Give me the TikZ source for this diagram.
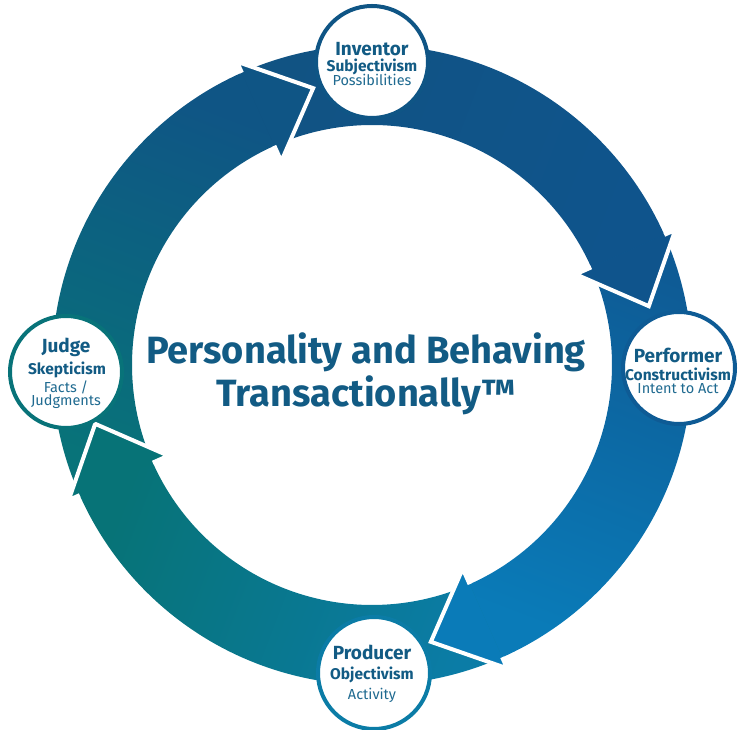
\documentclass[tikz,border=0pt]{standalone}
\usepackage{fontspec}
\setmainfont{Fira Sans}
\definecolor{txt}{HTML}{125B84}
\definecolor{txtl}{HTML}{1F6A90}
\definecolor{Aa}{HTML}{087379}
\definecolor{Ab}{HTML}{0F5585}
\definecolor{Ba}{HTML}{115383}
\definecolor{Bm}{HTML}{154779}
\definecolor{Bb}{HTML}{0F548C}
\definecolor{Ca}{HTML}{0E5B95}
\definecolor{Cb}{HTML}{0A7BB8}
\definecolor{Da}{HTML}{0B7CA6}
\definecolor{Db}{HTML}{077377}
\tikzset{
  stage/.style={circle, fill=white, draw=#1, line width=4pt, minimum size=112pt, inner sep=0pt},
  headline/.style={draw=white, line width=4pt, line join=miter},
  ttl/.style={text=txt, font=\fontsize{19}{19}\selectfont\bfseries, inner sep=0pt},
  sub/.style={text=txt, font=\fontsize{15.5}{15.5}\selectfont\bfseries, inner sep=0pt},
  lite/.style={text=txtl, font=\fontsize{14.5}{14.5}\selectfont, inner sep=0pt},
  big/.style={text=txt, font=\fontsize{38}{38}\selectfont\bfseries, inner sep=0pt}
}
\begin{document}
\begin{tikzpicture}[x=1pt,y=1pt]
\useasboundingbox (0,0) rectangle (741,730);
\def\ri{240pt}\def\ro{320pt}\def\rwi{223pt}\def\rwo{332pt}\def\rt{283pt}
\begin{scope}[shift={(372,365)}]
% bodies
\shade[bottom color=Aa, top color=Ab, shading angle=-21]
  (204:\ro) arc[start angle=204, end angle=113.5, radius=\ro] -- (113.5:\ri) arc[start angle=113.5, end angle=204, radius=\ri] -- cycle;
\shade[bottom color=Ba, middle color=Bm, top color=Bb, shading angle=-111]
  (114:\ro) arc[start angle=114, end angle=23.5, radius=\ro] -- (23.5:\ri) arc[start angle=23.5, end angle=114, radius=\ri] -- cycle;
\shade[bottom color=Ca, top color=Cb, shading angle=159]
  (24:\ro) arc[start angle=24, end angle=-66.5, radius=\ro] -- (-66.5:\ri) arc[start angle=-66.5, end angle=24, radius=\ri] -- cycle;
\shade[bottom color=Da, top color=Db, shading angle=69]
  (-66:\ro) arc[start angle=-66, end angle=-156.5, radius=\ro] -- (-156.5:\ri) arc[start angle=-156.5, end angle=-66, radius=\ri] -- cycle;
% heads
\foreach \b/\t/\c in {114/102/Ab, 24/12/Bb, -66/-78/Cb, -156/-168/Db}{
  \fill[\c] (\b:\ro) -- (\b:\rwo) -- (\t:\rt) -- (\b:\rwi) -- (\b:\ri) -- cycle;
  \draw[headline] (\b:\ro) -- (\b:\rwo) -- (\t:\rt) -- (\b:\rwi) -- (\b:\ri);
}
\end{scope}
% stage circles
\node[stage=Ab] (inv) at (372,668) {};
\node[stage=Ca] (per) at (679,362) {};
\node[stage=Da] (pro) at (374,57) {};
\node[stage=Aa] (jud) at (66,358) {};
% texts
\node[ttl] (invA) at (372,681) {Inventor};
\node[sub] (invB) at (372,663) {Subjectivism};
\node[lite] (invC) at (372,650) {Possibilities};
\node[ttl] (perA) at (678,375) {Performer};
\node[sub] (perB) at (678,356) {Constructivism};
\node[lite] (perC) at (678,341) {Intent to Act};
\node[ttl] (proA) at (372,78) {Producer};
\node[sub] (proB) at (372,55) {Objectivism};
\node[lite] (proC) at (372,35) {Activity};
\node[ttl] (judA) at (66,383) {Judge};
\node[sub] (judB) at (67,360) {Skepticism};
\node[lite] (judC) at (66,343) {Facts /};
\node[lite] (judD) at (66,328) {Judgments};
\node[big] (t1) at (366,378) {Personality and Behaving};
\node[big] (t2) at (366,335) {Transactionally™};
\end{tikzpicture}
\end{document}
